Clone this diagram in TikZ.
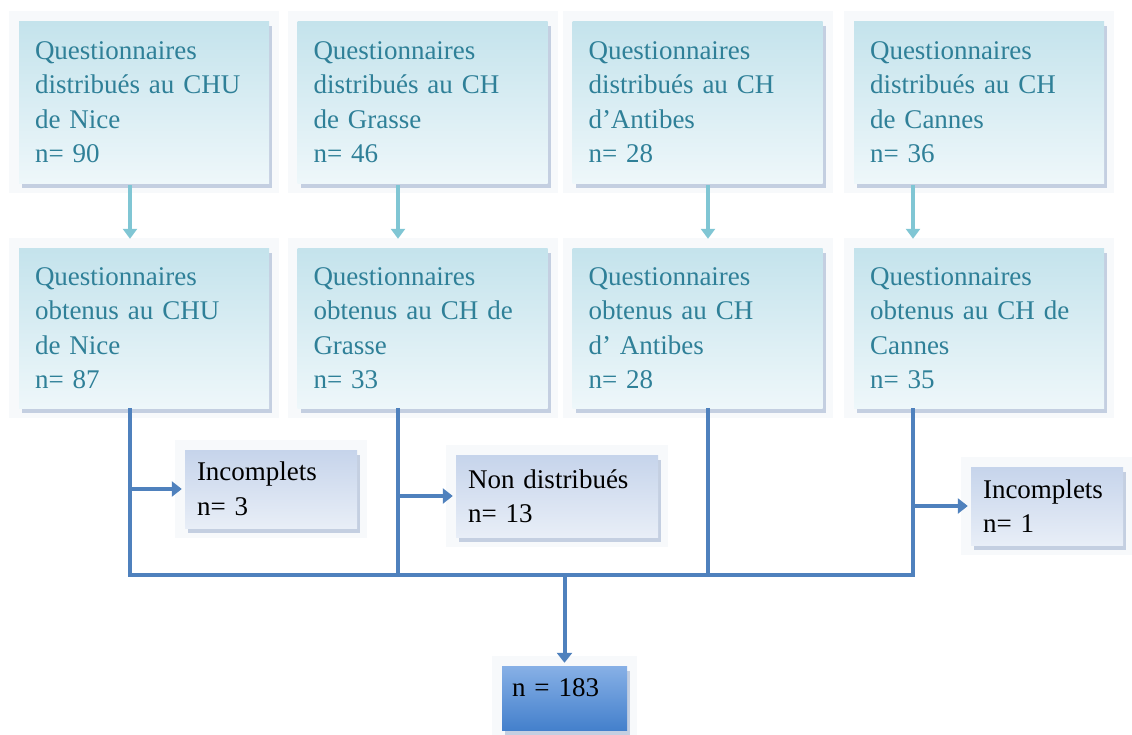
\documentclass[tikz,border=0pt]{standalone}
\usepackage{fontspec}
\setmainfont{Liberation Serif}
\usetikzlibrary{arrows.meta,shadows}

\definecolor{tealtxt}{RGB}{47,128,152}
\definecolor{boxtop}{RGB}{196,227,236}
\definecolor{boxbot}{RGB}{238,247,250}
\definecolor{smtop}{RGB}{198,212,235}
\definecolor{smbot}{RGB}{232,238,247}
\definecolor{tottop}{RGB}{135,176,230}
\definecolor{totbot}{RGB}{68,128,204}
\definecolor{busblue}{RGB}{79,129,189}
\definecolor{feedblue}{RGB}{128,198,212}
\definecolor{shade}{RGB}{80,110,165}
\definecolor{haze}{RGB}{247,249,251}

\begin{document}
\begin{tikzpicture}
  [x=1pt, y=-1pt,
   every node/.style={font=\fontsize{27}{34.5}\selectfont, align=left},
   card/.style={rectangle, draw=none,
     preaction={draw=haze, line width=20pt},
     drop shadow={shadow xshift=3pt, shadow yshift=-5pt, fill=shade, opacity=.3}},
   stage/.style={card, top color=boxtop, bottom color=boxbot, text=tealtxt,
     minimum width=250pt, minimum height=162pt, text width=218pt, inner xsep=16pt},
   lost/.style={card, top color=smtop, bottom color=smbot, text=black,
     minimum height=78pt, inner xsep=12pt},
   total/.style={card, top color=tottop, bottom color=totbot, text=black,
     minimum width=125pt, text width=105pt, inner xsep=10pt,
     text height=18pt, text depth=22pt, inner ysep=12pt},
   feed/.style={draw=feedblue, line width=3.5pt, shorten <=2pt, shorten >=9pt,
     -{Triangle[length=10pt, width=14pt]}},
   bus/.style={draw=busblue, line width=4pt},
   tip/.style={-{Triangle[length=10pt, width=15pt]}, shorten >=3pt}]

  \useasboundingbox (0,0) rectangle (1132,734);

  % questionnaires distribues
  \node[stage] (d1) at (144,102)   {Questionnaires\\distribués au CHU\\de Nice\\n= 90};
  \node[stage] (d2) at (422.5,102) {Questionnaires\\distribués au CH\\de Grasse\\n= 46};
  \node[stage] (d3) at (697.5,102) {Questionnaires\\distribués au CH\\d’Antibes\\n= 28};
  \node[stage] (d4) at (979,102)   {Questionnaires\\distribués au CH\\de Cannes\\n= 36};

  % questionnaires obtenus
  \node[stage, minimum height=160pt] (o1) at (144,328)   {Questionnaires\\obtenus au CHU\\de Nice\\n= 87};
  \node[stage, minimum height=160pt] (o2) at (422.5,328) {Questionnaires\\obtenus au CH de\\Grasse\\n= 33};
  \node[stage, minimum height=160pt] (o3) at (697.5,328) {Questionnaires\\obtenus au CH\\d’ Antibes\\n= 28};
  \node[stage, minimum height=160pt] (o4) at (979,328)   {Questionnaires\\obtenus au CH de\\Cannes\\n= 35};

  % exclus
  \node[lost, minimum width=172pt, text width=148pt] (i1) at (271,489)  {Incomplets\\n= 3};
  \node[lost, minimum width=202pt, text width=178pt, minimum height=82pt] (i2) at (557,496) {Non distribués\\n= 13};
  \node[lost, minimum width=152pt, text width=128pt] (i3) at (1047,506) {Incomplets\\n= 1};

  \node[total] (tot) at (564.5,698) {n = 183};

  \coordinate (bus) at (0,575);
  \foreach \i/\dx in {1/-14,2/-24.5,3/10.5,4/-66}
  {
    \draw[feed] ([xshift=\dx pt]d\i.south) -- ([xshift=\dx pt]o\i.north);
    \coordinate (v\i) at ([xshift=\dx pt]o\i.south);
    \draw[bus] (v\i) -- (v\i |- bus);
  }
  \draw[bus, line cap=rect] (v1 |- bus) -- (v4 |- bus);

  \draw[bus, tip] (i1.west -| v1) -- (i1.west);
  \draw[bus, tip] (i2.west -| v2) -- (i2.west);
  \draw[bus, tip] (i3.west -| v4) -- (i3.west);
  \draw[bus, tip] (tot.north |- bus) -- (tot.north);
\end{tikzpicture}
\end{document}
